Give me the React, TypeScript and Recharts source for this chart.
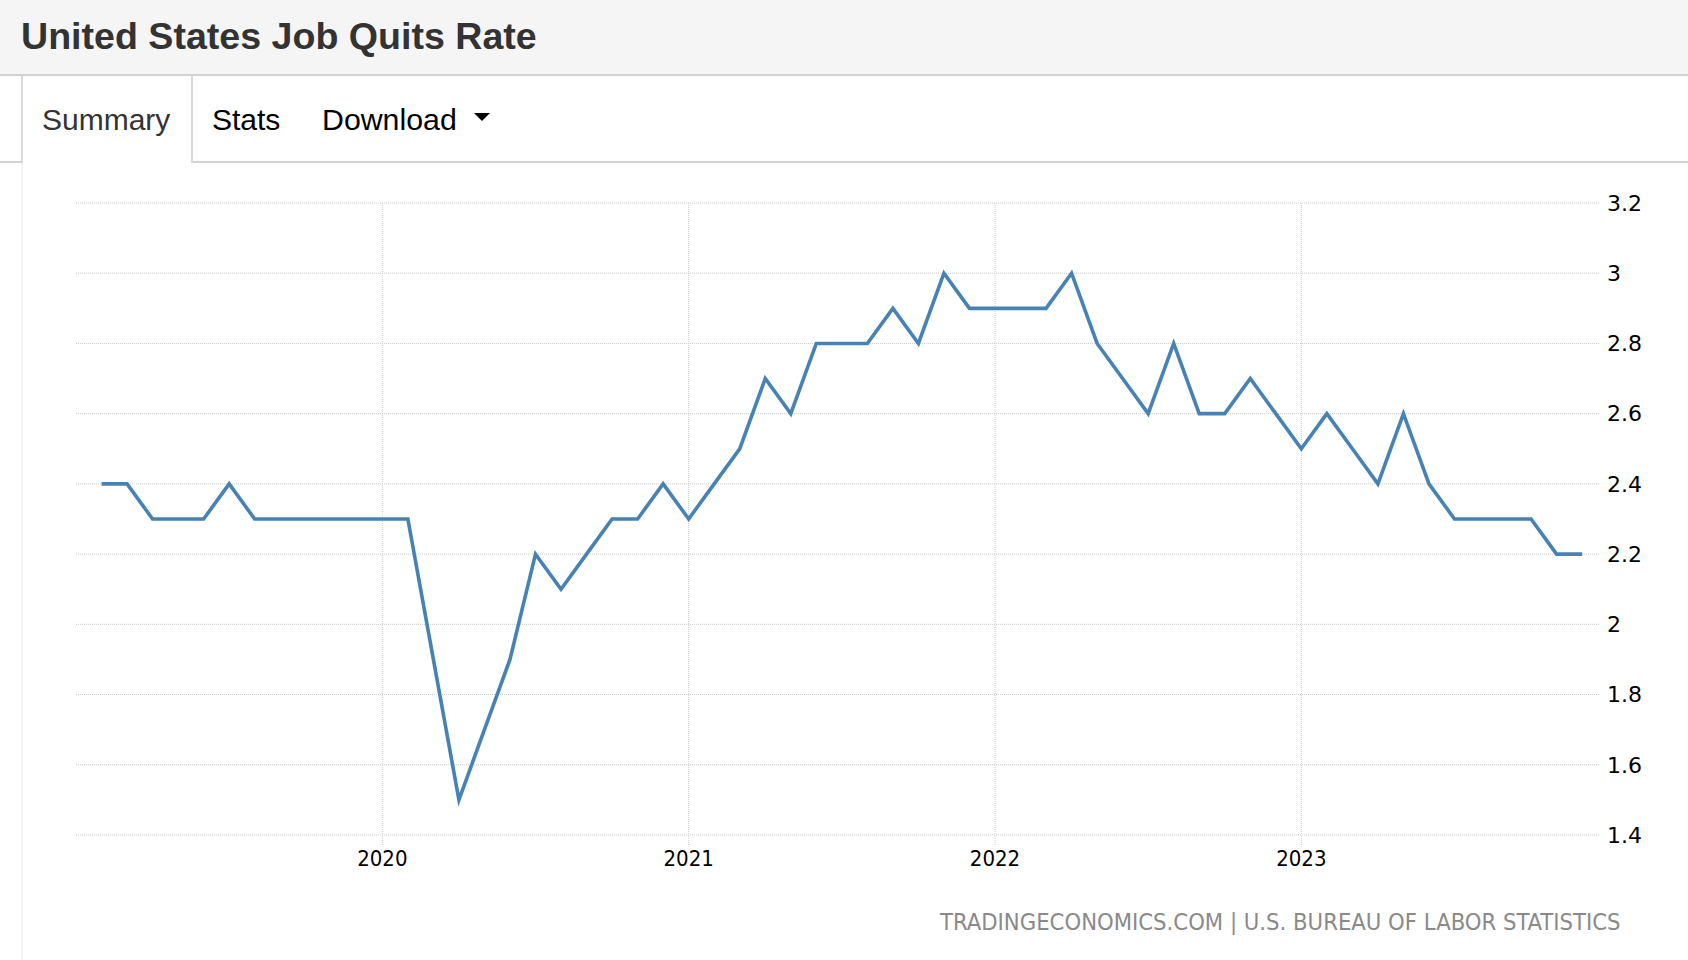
import React from 'react';
import { LineChart, Line, XAxis, YAxis, CartesianGrid } from 'recharts';

const months: string[] = [
  '2019-02', '2019-03', '2019-04', '2019-05', '2019-06', '2019-07', '2019-08', '2019-09', '2019-10', '2019-11', '2019-12',
  '2020-01', '2020-02', '2020-03', '2020-04', '2020-05', '2020-06', '2020-07', '2020-08', '2020-09', '2020-10', '2020-11', '2020-12',
  '2021-01', '2021-02', '2021-03', '2021-04', '2021-05', '2021-06', '2021-07', '2021-08', '2021-09', '2021-10', '2021-11', '2021-12',
  '2022-01', '2022-02', '2022-03', '2022-04', '2022-05', '2022-06', '2022-07', '2022-08', '2022-09', '2022-10', '2022-11', '2022-12',
  '2023-01', '2023-02', '2023-03', '2023-04', '2023-05', '2023-06', '2023-07', '2023-08', '2023-09', '2023-10', '2023-11', '2023-12',
];

const quitsRate: number[] = [
  2.4, 2.4, 2.3, 2.3, 2.3, 2.4, 2.3, 2.3, 2.3, 2.3, 2.3,
  2.3, 2.3, 1.9, 1.5, 1.7, 1.9, 2.2, 2.1, 2.2, 2.3, 2.3, 2.4,
  2.3, 2.4, 2.5, 2.7, 2.6, 2.8, 2.8, 2.8, 2.9, 2.8, 3.0, 2.9,
  2.9, 2.9, 2.9, 3.0, 2.8, 2.7, 2.6, 2.8, 2.6, 2.6, 2.7, 2.6,
  2.5, 2.6, 2.5, 2.4, 2.6, 2.4, 2.3, 2.3, 2.3, 2.3, 2.2, 2.2,
];

const yTicks: number[] = [1.4, 1.6, 1.8, 2, 2.2, 2.4, 2.6, 2.8, 3, 3.2];
const yearLabels: string[] = ['2020', '2021', '2022', '2023'];
const startYear = 2019;

const monthIndex = (m: string) => {
  const [y, mo] = m.split('-').map(Number);
  return (y - startYear) * 12 + (mo - 1);
};

const data = months.map((m, i) => ({ x: monthIndex(m), month: m, value: quitsRate[i] }));
const xTicks = yearLabels.map((y) => monthIndex(`${y}-01`));

const gridColor = '#cccccc';

export default function App() {
  return (
    <div
      style={{
        position: 'absolute',
        left: 0,
        top: 0,
        width: 1688,
        height: 960,
        background: '#ffffff',
        overflow: 'hidden',
        fontFamily: '"Liberation Sans", Arial, sans-serif',
      }}
    >
      {/* header */}
      <div style={{ position: 'absolute', left: 0, top: 0, width: 1688, height: 74, background: '#f5f5f5', borderBottom: '2px solid #d2d2d2' }} />
      <div style={{ position: 'absolute', left: 21, top: 17.5, fontSize: 37.6, lineHeight: '37.6px', fontWeight: 700, color: '#333', whiteSpace: 'nowrap' }}>
        United States Job Quits Rate
      </div>

      {/* tabs */}
      <div style={{ position: 'absolute', left: 0, top: 161, width: 21, height: 2, background: '#d2d2d2' }} />
      <div style={{ position: 'absolute', left: 191, top: 161, width: 1497, height: 2, background: '#d2d2d2' }} />
      <div style={{ position: 'absolute', left: 21, top: 76, width: 2, height: 87, background: '#d8d8d8' }} />
      <div style={{ position: 'absolute', left: 191, top: 76, width: 2, height: 87, background: '#d8d8d8' }} />
      <div style={{ position: 'absolute', left: 21, top: 163, width: 2, height: 797, background: '#f3f3f3' }} />
      <div style={{ position: 'absolute', left: 42, top: 104.6, fontSize: 30, lineHeight: '30px', color: '#333', whiteSpace: 'nowrap' }}>Summary</div>
      <div style={{ position: 'absolute', left: 212, top: 104.6, fontSize: 30, lineHeight: '30px', color: '#000', whiteSpace: 'nowrap' }}>Stats</div>
      <div style={{ position: 'absolute', left: 322, top: 104.6, fontSize: 30.3, lineHeight: '30px', color: '#000', whiteSpace: 'nowrap' }}>Download</div>
      <div
        style={{
          position: 'absolute',
          left: 474,
          top: 113,
          width: 0,
          height: 0,
          borderLeft: '8.5px solid transparent',
          borderRight: '8.5px solid transparent',
          borderTop: '8px solid #000',
        }}
      />

      {/* chart */}
      <div style={{ position: 'absolute', left: 0, top: 0 }}>
        <LineChart width={1688} height={900} data={data} margin={{ top: 203, right: 0, left: 76, bottom: 0 }}>
          <CartesianGrid stroke={gridColor} strokeDasharray="1 1" horizontal vertical syncWithTicks />
          <XAxis
            dataKey="x"
            type="number"
            domain={[0, 59.7]}
            ticks={xTicks}
            tickFormatter={(v: number, i: number) => yearLabels[i]}
            height={65}
            axisLine={false}
            tickLine={{ stroke: gridColor, strokeDasharray: '1 1' }}
            tickSize={10}
            tickMargin={5}
            tick={{ fill: '#000', fontSize: 22, fontFamily: '"DejaVu Sans Condensed", "DejaVu Sans", sans-serif' }}
            interval={0}
          />
          <YAxis
            type="number"
            orientation="right"
            domain={[1.4, 3.2]}
            ticks={yTicks}
            width={88}
            axisLine={false}
            tickLine={false}
            tickSize={0}
            tickMargin={7}
            interval={0}
            tick={{ fill: '#000', fontSize: 22, fontFamily: '"DejaVu Sans", sans-serif', textAnchor: 'start' }}
          />
          <Line
            type="linear"
            dataKey="value"
            stroke="#4682b4"
            strokeWidth={3.6}
            dot={false}
            activeDot={false}
            isAnimationActive={false}
          />
        </LineChart>
      </div>

      {/* footer */}
      <div
        style={{
          position: 'absolute',
          left: 940,
          top: 911,
          fontSize: 23.6,
          lineHeight: '23.6px',
          color: '#8a8a8a',
          whiteSpace: 'nowrap',
          fontFamily: '"DejaVu Sans Condensed", "DejaVu Sans", sans-serif',
        }}
      >
        TRADINGECONOMICS.COM | U.S. BUREAU OF LABOR STATISTICS
      </div>
    </div>
  );
}
